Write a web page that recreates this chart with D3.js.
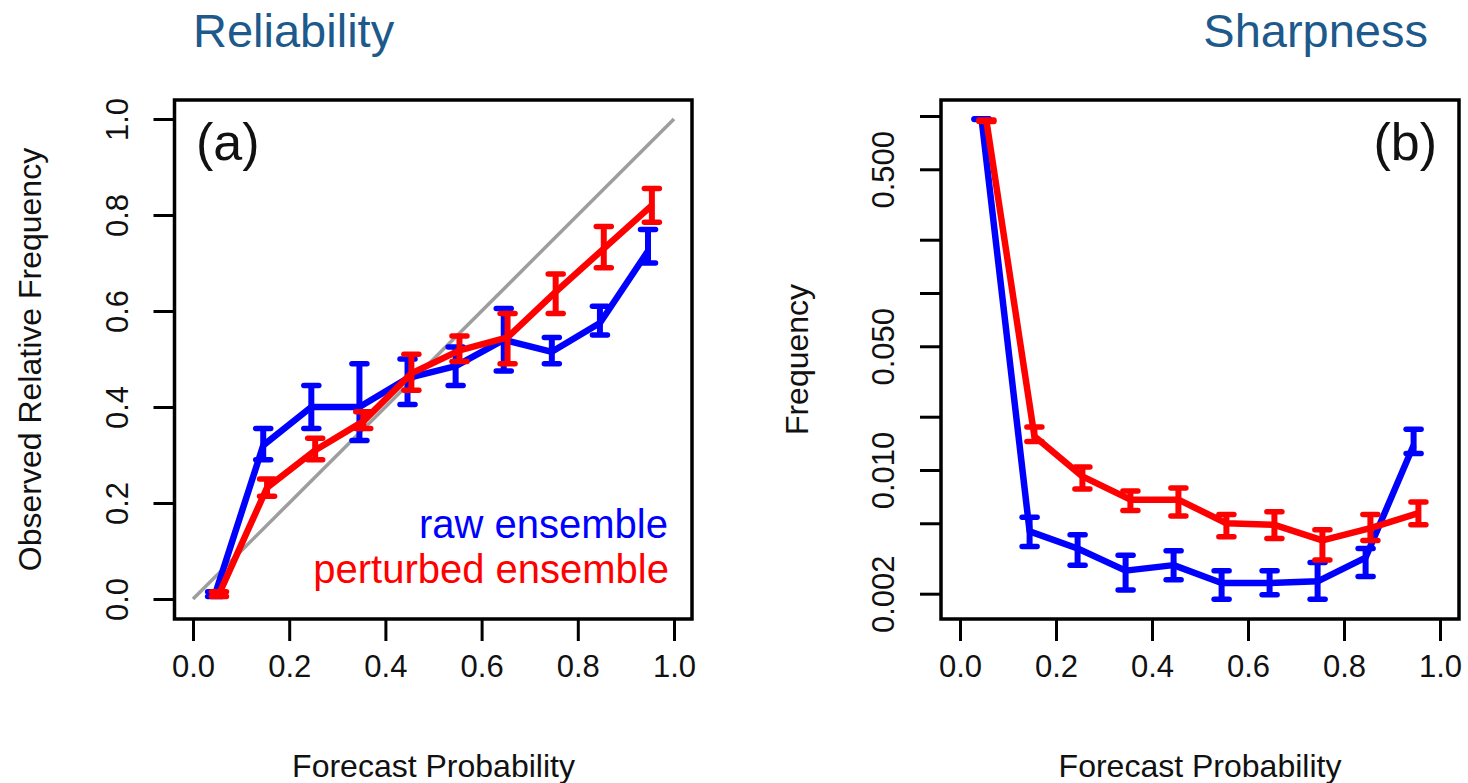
<!DOCTYPE html>
<html>
<head>
<meta charset="utf-8">
<script src="https://cdn.jsdelivr.net/npm/d3@7"></script>
<style>
  body { margin: 0; background: #fff; }
  text { font-family: "Liberation Sans", Arial, sans-serif; }
</style>
</head>
<body>
<div id="vis"></div>
<script>
// forecast probability bins
const bins = [0.05, 0.15, 0.25, 0.35, 0.45, 0.55, 0.65, 0.75, 0.85, 0.95];

// (a) reliability - raw ensemble
const relRaw   = [0.01, 0.32, 0.40, 0.40, 0.46, 0.485, 0.54, 0.515, 0.575, 0.725];
const relRawLo = [0.005, 0.29, 0.355, 0.33, 0.405, 0.445, 0.475, 0.49, 0.55, 0.70];
const relRawHi = [0.015, 0.355, 0.445, 0.49, 0.50, 0.525, 0.605, 0.545, 0.61, 0.77];
// (a) reliability - perturbed ensemble
const relPert   = [0.01, 0.232, 0.31, 0.37, 0.47, 0.518, 0.545, 0.64, 0.73, 0.82];
const relPertLo = [0.005, 0.214, 0.29, 0.355, 0.435, 0.495, 0.49, 0.595, 0.69, 0.785];
const relPertHi = [0.015, 0.25, 0.335, 0.39, 0.51, 0.548, 0.595, 0.677, 0.776, 0.855];

// (b) sharpness - raw ensemble
const shRaw   = [0.96, 0.0045, 0.0036, 0.0027, 0.0029, 0.0023, 0.0023, 0.00235, 0.0032, 0.0138];
const shRawLo = [0.955, 0.0037, 0.0029, 0.0021, 0.0024, 0.00186, 0.00197, 0.00186, 0.0025, 0.0124];
const shRawHi = [0.965, 0.0054, 0.0043, 0.0033, 0.0035, 0.0027, 0.0027, 0.0030, 0.0036, 0.0170];
// (b) sharpness - perturbed ensemble
const shPert   = [0.94, 0.0155, 0.0092, 0.0068, 0.0068, 0.0050, 0.0049, 0.0040, 0.0047, 0.0057];
const shPertLo = [0.93, 0.0145, 0.0078, 0.0059, 0.0055, 0.0042, 0.0041, 0.0031, 0.0040, 0.0049];
const shPertHi = [0.95, 0.0175, 0.0104, 0.0076, 0.0079, 0.0056, 0.0058, 0.0046, 0.0056, 0.0066];

const probTicks = [0, 0.2, 0.4, 0.6, 0.8, 1.0];
const relTicks = [0, 0.2, 0.4, 0.6, 0.8, 1.0];
const freqTicks = [1, 0.5, 0.2, 0.1, 0.05, 0.02, 0.01, 0.005, 0.002];
const freqLabels = [0.5, 0.05, 0.01, 0.002];

const BLUE = '#0000ff', RED = '#ff0000';

const svg = d3.select('#vis')
  .append('svg')
  .attr('width', 1468)
  .attr('height', 783);

function drawPanel(p) {
  const g = svg.append('g');

  // titles above the panel
  g.append('text')
    .attr('x', p.titleX)
    .attr('y', 47)
    .attr('text-anchor', p.titleAnchor)
    .attr('fill', '#1d5a8b')
    .attr('font-size', 47)
    .text(p.title);

  // x axis
  const xAxis = g.append('g')
    .attr('transform', 'translate(0,' + p.box[3] + ')')
    .call(d3.axisBottom(p.x).tickValues(probTicks).tickSize(22).tickSizeOuter(0)
      .tickPadding(14).tickFormat(d3.format('.1f')));
  xAxis.select('.domain').remove();
  xAxis.selectAll('line').attr('stroke', '#000').attr('stroke-width', 3);
  xAxis.selectAll('text').attr('font-size', 31).attr('fill', '#111');

  // y axis, labels parallel to the axis
  const yAxis = g.append('g')
    .attr('transform', 'translate(' + p.box[0] + ',0)')
    .call(d3.axisLeft(p.y).tickValues(p.yTicks).tickSize(21).tickSizeOuter(0)
      .tickFormat(d => p.yLabel(d)));
  yAxis.select('.domain').remove();
  yAxis.selectAll('line').attr('stroke', '#000').attr('stroke-width', 3);
  yAxis.selectAll('text')
    .attr('font-size', 31)
    .attr('fill', '#111')
    .attr('text-anchor', 'middle')
    .attr('transform', 'rotate(-90)')
    .attr('x', 0)
    .attr('dy', 0)
    .attr('y', -p.yLabelGap);

  // axis titles
  g.append('text')
    .attr('x', (p.x(0) + p.x(1)) / 2)
    .attr('y', 777)
    .attr('text-anchor', 'middle')
    .attr('font-size', 32)
    .attr('fill', '#111')
    .text('Forecast Probability');

  g.append('text')
    .attr('transform', 'translate(' + p.yTitleX + ',' + ((p.box[1] + p.box[3]) / 2) + ') rotate(-90)')
    .attr('text-anchor', 'middle')
    .attr('font-size', 32)
    .attr('fill', '#111')
    .text(p.yTitle);

  if (p.diagonal) {
    g.append('line')
      .attr('x1', p.x(0)).attr('y1', p.y(0))
      .attr('x2', p.x(1)).attr('y2', p.y(1))
      .attr('stroke', '#9e9e9e')
      .attr('stroke-width', 3.5);
  }

  // one series: line, error bars and caps
  p.series.forEach(s => {
    const pts = bins.map((b, i) => ({ x: b + s.dx, v: s.v[i], lo: s.lo[i], hi: s.hi[i] }));
    g.append('path')
      .datum(pts)
      .attr('fill', 'none')
      .attr('stroke', s.color)
      .attr('stroke-width', 6.5)
      .attr('stroke-linejoin', 'round')
      .attr('d', d3.line().x(d => p.x(d.x)).y(d => p.y(d.v)));

    const bars = g.append('g');
    bars.selectAll('.whisker')
      .data(pts)
      .enter()
      .append('line')
      .attr('x1', d => p.x(d.x)).attr('x2', d => p.x(d.x))
      .attr('y1', d => p.y(d.lo)).attr('y2', d => p.y(d.hi))
      .attr('stroke', s.color)
      .attr('stroke-width', 6);

    bars.selectAll('.cap')
      .data(pts.flatMap(d => [{ x: d.x, v: d.lo }, { x: d.x, v: d.hi }]))
      .enter()
      .append('line')
      .attr('x1', d => p.x(d.x) - 7.5).attr('x2', d => p.x(d.x) + 7.5)
      .attr('y1', d => p.y(d.v)).attr('y2', d => p.y(d.v))
      .attr('stroke', s.color)
      .attr('stroke-width', 5.5)
      .attr('stroke-linecap', 'round');
  });

  // frame
  g.append('rect')
    .attr('x', p.box[0]).attr('y', p.box[1])
    .attr('width', p.box[2] - p.box[0]).attr('height', p.box[3] - p.box[1])
    .attr('fill', 'none')
    .attr('stroke', '#000')
    .attr('stroke-width', 3.5);

  g.append('text')
    .attr('x', p.tagX)
    .attr('y', 160)
    .attr('text-anchor', p.tagAnchor)
    .attr('font-size', 52)
    .attr('fill', '#111')
    .text(p.tag);

  return g;
}

const panelA = drawPanel({
  box: [174.5, 100, 692, 619],
  x: d3.scaleLinear().domain([0, 1]).range([193, 674]),
  y: d3.scaleLinear().domain([0, 1]).range([599, 119]),
  yTicks: relTicks,
  yLabel: d3.format('.1f'),
  yLabelGap: 47,
  yTitleX: 41,
  yTitle: 'Observed Relative Frequency',
  title: 'Reliability', titleX: 193, titleAnchor: 'start',
  tag: '(a)', tagX: 196, tagAnchor: 'start',
  diagonal: true,
  series: [
    { v: relRaw, lo: relRawLo, hi: relRawHi, color: BLUE, dx: -0.004 },
    { v: relPert, lo: relPertLo, hi: relPertHi, color: RED, dx: 0.004 }
  ]
});

// legend inside panel (a)
panelA.append('text')
  .attr('x', 668).attr('y', 538)
  .attr('text-anchor', 'end')
  .attr('font-size', 40)
  .attr('fill', BLUE)
  .text('raw ensemble');
panelA.append('text')
  .attr('x', 669).attr('y', 583)
  .attr('text-anchor', 'end')
  .attr('font-size', 40)
  .attr('fill', RED)
  .text('perturbed ensemble');

drawPanel({
  box: [941, 100, 1459, 619],
  x: d3.scaleLinear().domain([0, 1]).range([960, 1440]),
  y: d3.scaleLog().domain([0.002, 1]).range([593.7, 116]),
  yTicks: freqTicks,
  yLabel: d => freqLabels.includes(d) ? d3.format('.3f')(d) : '',
  yLabelGap: 47,
  yTitleX: 808,
  yTitle: 'Frequency',
  title: 'Sharpness', titleX: 1428, titleAnchor: 'end',
  tag: '(b)', tagX: 1437, tagAnchor: 'end',
  diagonal: false,
  series: [
    { v: shRaw, lo: shRawLo, hi: shRawHi, color: BLUE, dx: -0.005 },
    { v: shPert, lo: shPertLo, hi: shPertHi, color: RED, dx: 0.005 }
  ]
});
</script>
</body>
</html>
